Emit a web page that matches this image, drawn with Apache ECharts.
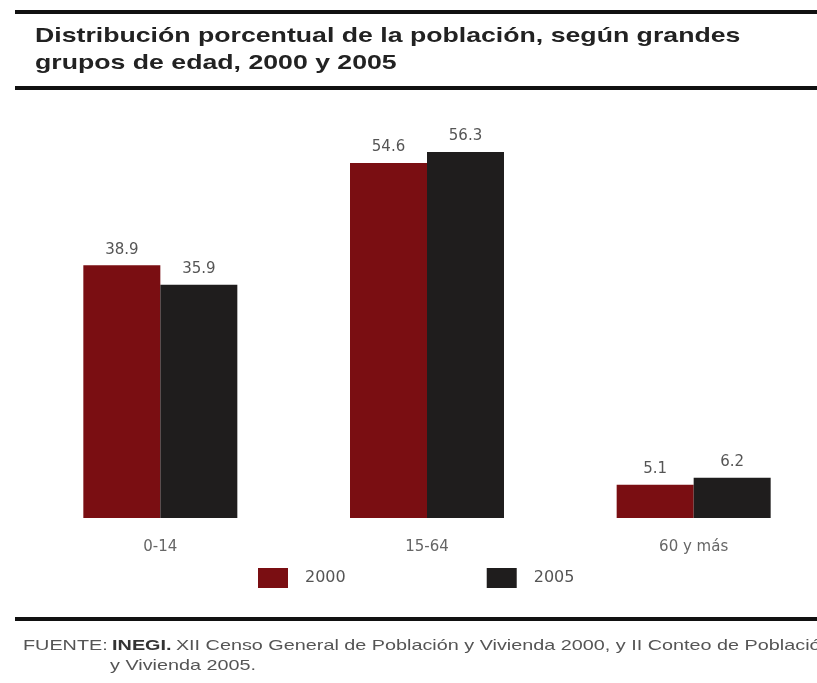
<!DOCTYPE html>
<html>
<head>
<meta charset="utf-8">
<script src="https://cdn.jsdelivr.net/npm/echarts@6/dist/echarts.min.js"></script>
<style>
  html, body { margin: 0; padding: 0; background: #fff; overflow: hidden; }
  #chart { width: 840px; height: 683px; }
</style>
</head>
<body>
<div id="chart"></div>
<script>
const categories = ['0-14', '15-64', '60 y más']
const seriesNames = ['2000', '2005']
const values2000 = [38.9, 54.6, 5.1]
const values2005 = [35.9, 56.3, 6.2]
const colors = ['#7a0e12', '#1f1d1d']
const titleLines = [
  'Distribución porcentual de la población, según grandes',
  'grupos de edad, 2000 y 2005',
]

const chart = echarts.init(document.getElementById('chart'))

const labelStyle = {
  show: true,
  position: 'top',
  distance: 8,
  color: '#555',
  fontSize: 15,
  fontFamily: 'DejaVu Sans',
  formatter: (p) => p.value.toFixed(1),
}

// the source picture is stretched sideways, so headline and footer text get scaleX
const stretched = (text, x, y, font, fill) => ({
  type: 'text',
  x: x,
  y: y,
  scaleX: 1.27,
  style: { text: text, fill: fill, font: font, textVerticalAlign: 'middle' },
})

const option = {
  backgroundColor: '#fff',
  animation: false,
  legend: {
    left: 253,
    top: 563,
    itemWidth: 30,
    itemHeight: 20,
    itemGap: 141,
    icon: 'rect',
    data: seriesNames,
    textStyle: { color: '#555', fontSize: 16, fontFamily: 'DejaVu Sans', padding: [0, 0, 0, 12] },
  },
  grid: {
    left: 27,
    width: 800,
    top: 128,
    bottom: 165,
  },
  xAxis: {
    type: 'category',
    data: categories,
    axisLine: { show: false },
    axisTick: { show: false },
    axisLabel: { color: '#666', fontSize: 15, margin: 22, fontFamily: 'DejaVu Sans' },
  },
  yAxis: {
    type: 'value',
    min: 0,
    max: 60,
    show: false,
  },
  series: [
    {
      name: seriesNames[0],
      type: 'bar',
      data: values2000,
      barWidth: 77,
      barGap: '0%',
      itemStyle: { color: colors[0] },
      label: labelStyle,
    },
    {
      name: seriesNames[1],
      type: 'bar',
      data: values2005,
      barWidth: 77,
      itemStyle: { color: colors[1] },
      label: labelStyle,
    },
  ],
  graphic: [
    { type: 'rect', shape: { x: 15, y: 10, width: 830, height: 4 }, style: { fill: '#111' } },
    { type: 'rect', shape: { x: 15, y: 86, width: 830, height: 4 }, style: { fill: '#111' } },
    { type: 'rect', shape: { x: 15, y: 617, width: 830, height: 4 }, style: { fill: '#111' } },
    stretched(titleLines[0], 35, 36, 'bold 21px "Liberation Sans"', '#222'),
    stretched(titleLines[1], 35, 63, 'bold 21px "Liberation Sans"', '#222'),
    {
      type: 'text',
      x: 23,
      y: 646,
      scaleX: 1.32,
      style: {
        text: '{a|FUENTE:} {b|INEGI.} {a|XII Censo General de Población y Vivienda 2000, y II Conteo de Población}',
        textVerticalAlign: 'middle',
        rich: {
          a: { fill: '#555', fontSize: 15, fontFamily: 'Liberation Sans' },
          b: { fill: '#333', fontSize: 15, fontWeight: 'bold', fontFamily: 'Liberation Sans' },
        },
      },
    },
    {
      type: 'text',
      x: 110,
      y: 666,
      scaleX: 1.32,
      style: { text: 'y Vivienda 2005.', fill: '#555', font: '15px "Liberation Sans"', textVerticalAlign: 'middle' },
    },
  ],
}

chart.setOption(option)
</script>
</body>
</html>
